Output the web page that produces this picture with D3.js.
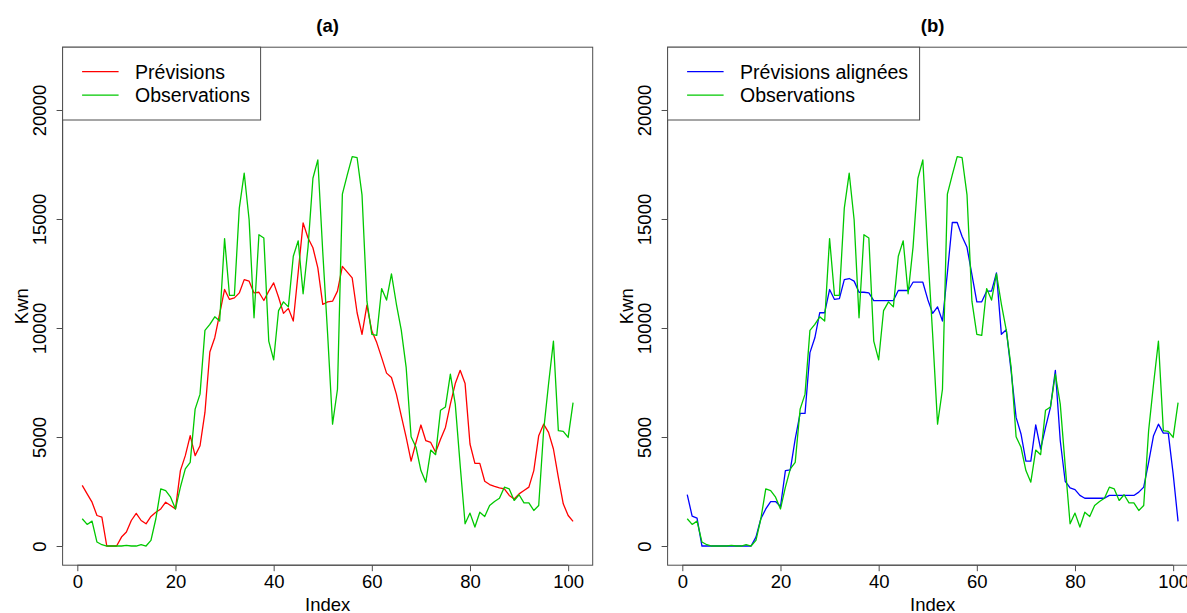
<!DOCTYPE html>
<html>
<head>
<meta charset="utf-8">
<script src="https://cdn.jsdelivr.net/npm/d3@7"></script>
<style>
  html, body { margin: 0; padding: 0; background: #fff; }
  svg { display: block; font-family: "Liberation Sans", Arial, sans-serif; }
</style>
</head>
<body>
<svg id="chart" width="1187" height="613"></svg>
<script>
// Hourly energy values (Kwn), indices 1..101
const observations = [
  1250, 990, 1143, 183, 60, 0, 0, 0, 0, 30,
  0, 0, 60, 0, 260, 1250, 2620, 2545, 2240, 1700,
  2700, 3535, 3840, 6280, 6965, 9890, 10165, 10515, 10320, 14100,
  11500, 11500, 15500, 17100, 14965, 10470, 14280, 14130, 9400, 8535,
  10800, 11200, 10970, 13290, 14000, 11570, 13700, 16870, 17710, 13500,
  9700, 5590, 7190, 16140, 17020, 17860, 17810, 16110, 11230, 9710,
  9660, 11810, 11280, 12480, 11100, 9900, 8180, 5010, 4530, 3460,
  2930, 4400, 4190, 6230, 6380, 7880, 6510, 3700, 1020, 1510,
  870, 1550, 1356, 1860, 2040, 2190, 2700, 2620, 2090, 2350,
  1980, 1980, 1630, 1860, 5290, 7420, 9400, 5290, 5260, 4980,
  6580
];

const forecasts = [
  2780, 2390, 2010, 1400, 1326, 0, 0, 0, 410, 640,
  1170, 1500, 1170, 1020, 1356, 1550, 1700, 2010, 1860, 1700,
  3460, 4145, 5060, 4145, 4600, 6126, 8900, 9555, 10650, 11770,
  11310, 11380, 11610, 12220, 12150, 11610, 11640, 11260, 11690, 12070,
  11410, 10670, 10900, 10320, 12550, 14820, 14130, 13680, 12760, 11080,
  11200, 11230, 11690, 12830, 12560, 12300, 10700, 9710, 11050, 9860,
  9330, 8640, 7930, 7730, 6965, 5970, 4980, 3890, 4750, 5550,
  4830, 4750, 4300, 4900, 5440, 6510, 7450, 8060, 7450, 4680,
  3790, 3790, 2970, 2820, 2740, 2670, 2620, 2320, 2160, 2390,
  2545, 2700, 3460, 5060, 5590, 5210, 4450, 3150, 1935, 1400,
  1130
];

const alignedForecasts = [
  2360, 1370, 1280, 0, 0, 0, 0, 0, 0, 0,
  0, 0, 0, 0, 410, 1250, 1700, 2040, 2040, 1810,
  3460, 3490, 4910, 6080, 6080, 8870, 9550, 10700, 10700, 11765,
  11310, 11350, 12220, 12270, 12150, 11640, 11640, 11610, 11260, 11260,
  11260, 11260, 11260, 11720, 11720, 11720, 12100, 12100, 12100, 11310,
  10670, 10970, 10320, 12530, 14840, 14840, 14200, 13700, 12450, 11200,
  11200, 11690, 11690, 12530, 9710, 9920, 8000, 5900, 5140, 3890,
  3890, 5560, 4450, 5440, 6360, 8060, 4830, 2970, 2670, 2590,
  2320, 2190, 2190, 2190, 2190, 2190, 2320, 2320, 2320, 2320,
  2320, 2320, 2470, 2700, 3840, 5060, 5590, 5180, 5180, 3310,
  1130
];

const indices = d3.range(1, observations.length + 1);
const xTicks = [0, 20, 40, 60, 80, 100];
const yTicks = [0, 5000, 10000, 15000, 20000];
const xDomain = [-3, 105];
const yDomain = [-880, 22880];

const RED = "#ff0000", GREEN = "#00c800", BLUE = "#0000ff";
const AXIS = "#4d4d4d";
const FONT = 18.5;
const LEGEND_FONT = 19.5;
const FAMILY = "Liberation Sans, Arial, sans-serif";

const panels = [
  { title: "(a)", left: 62.6,
    series: [ { name: "Prévisions", values: forecasts, color: RED },
              { name: "Observations", values: observations, color: GREEN } ],
    legendWidth: 198 },
  { title: "(b)", left: 667.6,
    series: [ { name: "Prévisions alignées", values: alignedForecasts, color: BLUE },
              { name: "Observations", values: observations, color: GREEN } ],
    legendWidth: 252 }
];

const svg = d3.select("#chart");
const plotW = 530.1, plotTop = 47.2, plotBottom = 565.2;

panels.forEach(p => {
  const x = d3.scaleLinear().domain(xDomain).range([p.left, p.left + plotW]);
  const y = d3.scaleLinear().domain(yDomain).range([plotBottom, plotTop]);
  const g = svg.append("g");

  // series lines
  const line = d3.line().x((d, i) => x(indices[i])).y(d => y(d));
  p.series.forEach(s => {
    g.append("path")
      .datum(s.values)
      .attr("d", line)
      .attr("fill", "none")
      .attr("stroke", s.color)
      .attr("stroke-width", 1.3)
      .attr("stroke-linejoin", "round");
  });

  // x axis
  const xa = g.append("g")
    .attr("transform", `translate(0,${plotBottom})`)
    .call(d3.axisBottom(x).tickValues(xTicks).tickSize(6).tickPadding(3.5).tickFormat(d3.format("d")));
  xa.select(".domain").attr("d", `M${x(0)},0H${x(100)}`).attr("stroke", AXIS);
  xa.selectAll(".tick line").attr("stroke", AXIS);
  xa.selectAll("text").attr("fill", "#000").attr("font-size", FONT).attr("font-family", FAMILY);

  // y axis, labels parallel to the axis
  const ya = g.append("g")
    .attr("transform", `translate(${p.left},0)`)
    .call(d3.axisLeft(y).tickValues(yTicks).tickSize(6).tickFormat(d3.format("d")));
  ya.select(".domain").attr("d", `M0,${y(0)}V${y(20000)}`).attr("stroke", AXIS);
  ya.selectAll(".tick line").attr("stroke", AXIS);
  ya.selectAll("text")
    .attr("fill", "#000")
    .attr("font-size", FONT)
    .attr("font-family", FAMILY)
    .attr("x", null).attr("dy", null)
    .attr("text-anchor", "middle")
    .attr("transform", "translate(-17,0) rotate(-90)");

  // plot frame
  g.append("rect")
    .attr("x", p.left).attr("y", plotTop)
    .attr("width", plotW).attr("height", plotBottom - plotTop)
    .attr("fill", "none").attr("stroke", AXIS).attr("stroke-width", 1);

  // titles
  g.append("text")
    .attr("x", p.left + plotW / 2).attr("y", 32)
    .attr("text-anchor", "middle").attr("font-weight", "bold")
    .attr("font-size", FONT).text(p.title);
  g.append("text")
    .attr("x", p.left + plotW / 2).attr("y", 611)
    .attr("text-anchor", "middle").attr("font-size", FONT).text("Index");
  g.append("text")
    .attr("transform", `translate(${p.left - 34.3},${(plotTop + plotBottom) / 2}) rotate(-90)`)
    .attr("text-anchor", "middle").attr("font-size", FONT).text("Kwn");

  // legend
  const lg = g.append("g").attr("transform", `translate(${p.left},${plotTop})`);
  lg.append("rect")
    .attr("width", p.legendWidth).attr("height", 120 - plotTop)
    .attr("fill", "#fff").attr("stroke", AXIS).attr("stroke-width", 1);
  p.series.forEach((s, i) => {
    const yy = 24.5 + i * 23.4;
    lg.append("line")
      .attr("x1", 19.5).attr("x2", 56).attr("y1", yy).attr("y2", yy)
      .attr("stroke", s.color).attr("stroke-width", 1.3);
    lg.append("text")
      .attr("x", 72.5).attr("y", yy + 7)
      .attr("font-size", LEGEND_FONT).text(s.name);
  });
});
</script>
</body>
</html>
